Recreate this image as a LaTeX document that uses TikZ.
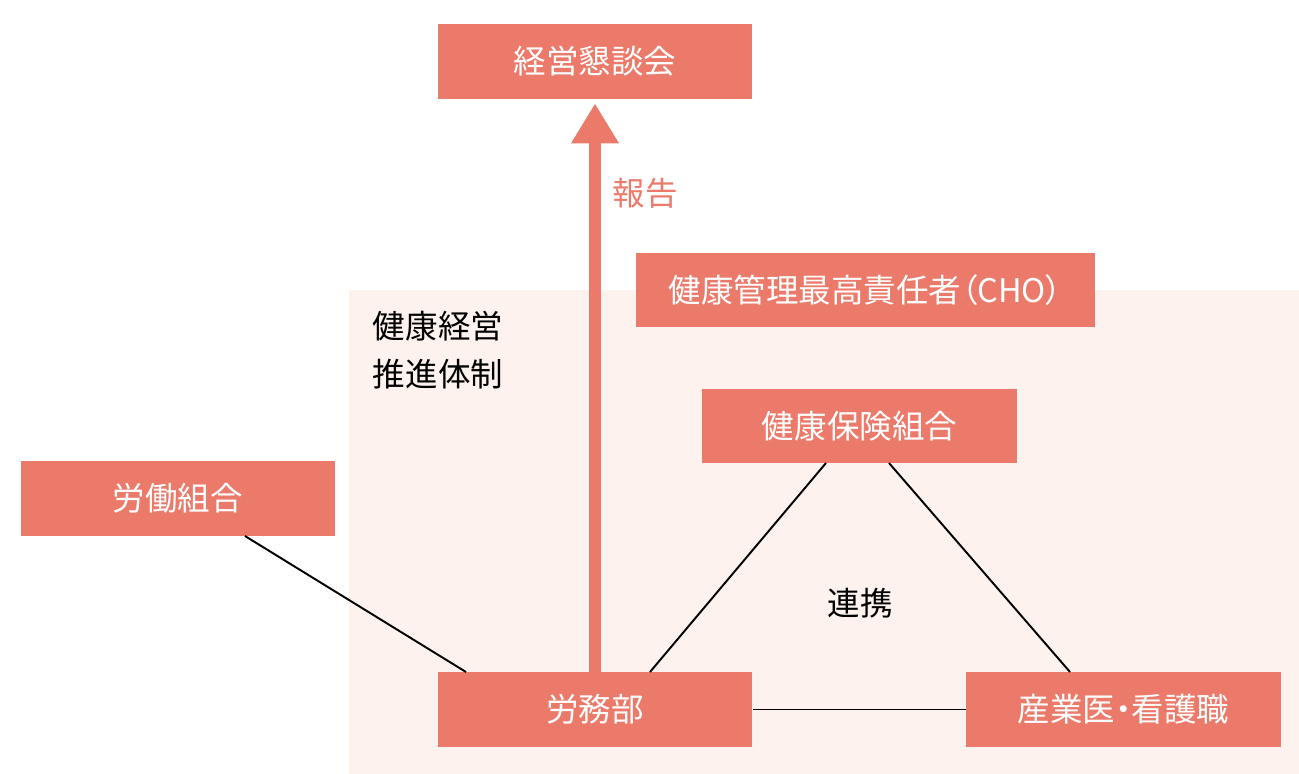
\documentclass[tikz,border=0pt]{standalone}
\usepackage{fontspec}
\setmainfont{Noto Sans CJK JP}
\usepackage{tikz}
\usetikzlibrary{arrows.meta}
\definecolor{salmon}{HTML}{EC7A6A}
\definecolor{pale}{HTML}{FEF2EF}
\tikzset{
    every node/.style={inner sep=0pt, font=\fontsize{18.5}{27}\selectfont}
}
\tikzset{
    box/.style={rectangle, fill=salmon, text=white, minimum width=6.3cm,
    	minimum height=1.5cm}
}
\tikzset{
	prop/.style={font=\fontsize{18.5}{27}\selectfont\addfontfeatures{RawFeature=+palt}}
}
\tikzset{
	link/.style={line width=1.1pt, black}
}

\begin{document}
\begin{tikzpicture}[x=0.02cm, y=-0.02cm]
  \useasboundingbox (0, 0) rectangle (1299, 774);
  \fill[pale] (349, 290) rectangle (1299, 774);

  \node (kondan) [box] at (595, 61.5) {経営懇談会};
  \node (cho) [box, prop, minimum width=9.18cm] at (865.5, 290) {健康管理最高責任者（CHO）};
  \node (kenpo) [box] at (859.5, 426) {健康保険組合};
  \node (rodo) [box] at (178, 498.5) {労働組合};
  \node (romu) [box] at (595, 709.5) {労務部};
  \node (sangyo) [box, prop] at (1123.5, 709.5) {産業医・看護職};

  \node (suishin) [align=left] at (438, 350) {健康経営\\推進体制};
  \node (renkei) at (860, 603) {連携};
  \node (hokoku) [text=salmon] at (645, 193) {報告};

  \coordinate (r1) at (466, 672); \coordinate (r2) at (650, 672);
  \coordinate (k1) at (826, 463); \coordinate (k2) at (889, 463);
  \coordinate (s1) at (1070, 672); \coordinate (l1) at (245, 536);

  \draw[salmon, line width=0.24cm, shorten >=0.08cm,
    -{Triangle[length=0.8cm, width=0.9cm]}] (romu.north) -- (kondan.south);
  \draw[link] (l1) -- (r1); \draw[link] (k1) -- (r2);
  \draw[link] (k2) -- (s1); \draw[link] (romu.east) -- (sangyo.west);
\end{tikzpicture}
\end{document}
